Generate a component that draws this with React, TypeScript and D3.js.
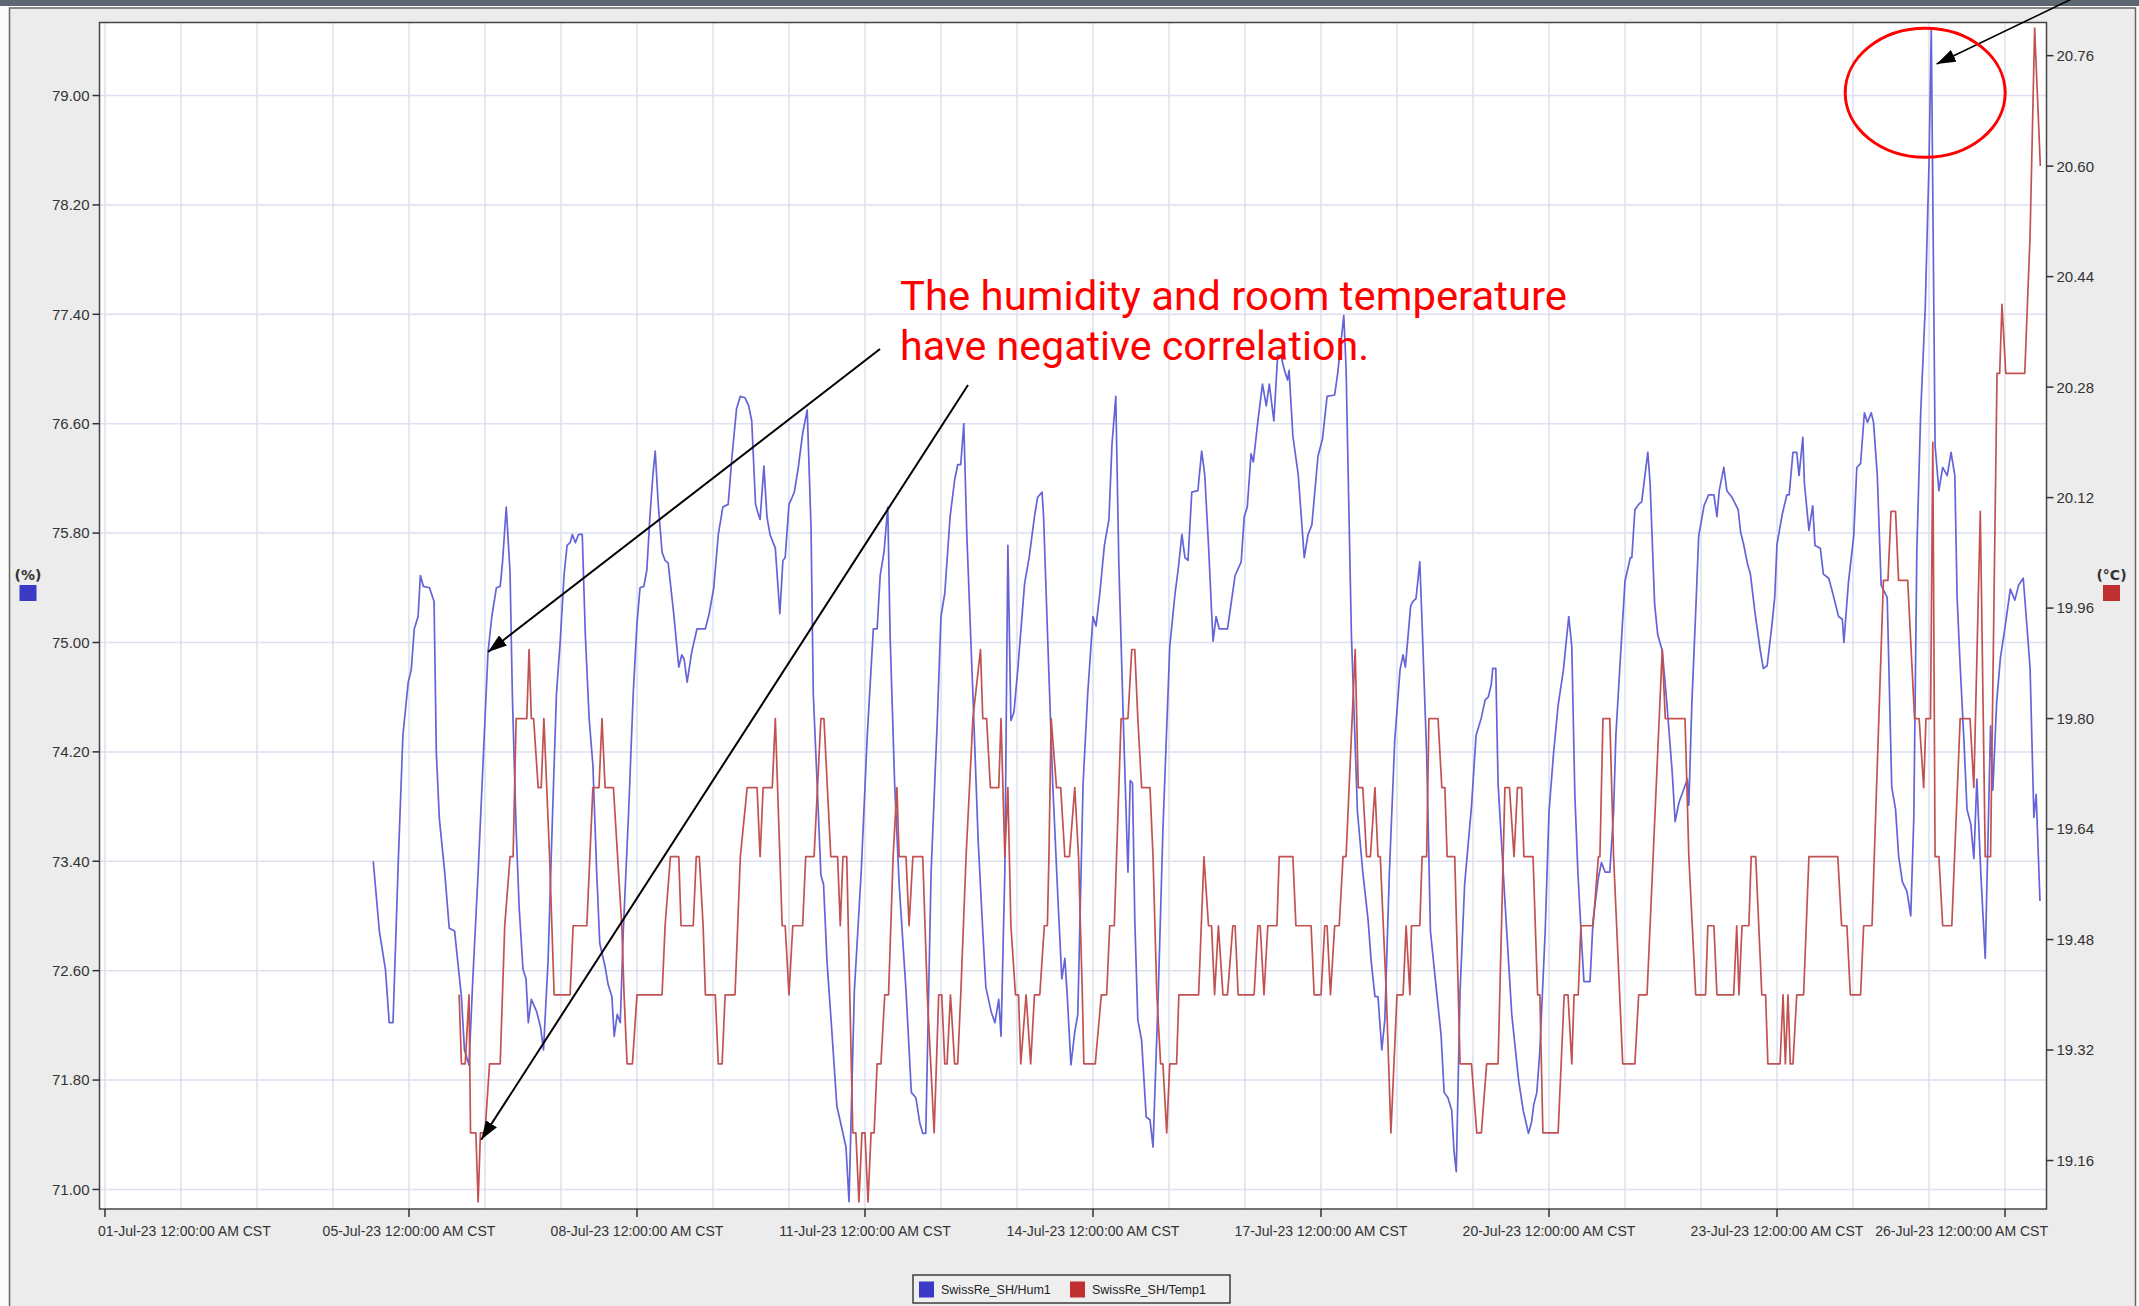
import React, { useRef, useEffect } from 'react';
import * as d3 from 'd3';

// Humidity (%) : [days since 01-Jul-23 00:00 CST, value]
const humidity: [number, number][] = [
  [3.53, 73.4], [3.61, 72.89], [3.69, 72.61], [3.74, 72.22], [3.79, 72.22], [3.86, 73.41], [3.92, 74.32],
  [3.99, 74.71], [4.03, 74.8], [4.07, 75.1], [4.12, 75.19], [4.15, 75.49], [4.19, 75.41], [4.27, 75.4],
  [4.33, 75.3], [4.36, 74.19], [4.4, 73.71], [4.47, 73.32], [4.53, 72.91], [4.6, 72.89], [4.69, 72.41],
  [4.73, 72.02], [4.79, 71.91], [4.84, 72.54], [4.91, 73.32], [4.98, 74.19], [5.04, 74.93], [5.09, 75.19],
  [5.15, 75.4], [5.2, 75.41], [5.23, 75.58], [5.28, 75.99], [5.33, 75.51], [5.36, 74.62], [5.41, 73.63],
  [5.45, 73.06], [5.5, 72.61], [5.54, 72.54], [5.57, 72.22], [5.61, 72.39], [5.68, 72.3], [5.73, 72.19],
  [5.77, 72.02], [5.83, 72.67], [5.89, 73.76], [5.94, 74.62], [5.99, 75.01], [6.04, 75.49], [6.08, 75.71],
  [6.12, 75.73], [6.15, 75.79], [6.19, 75.73], [6.23, 75.79], [6.28, 75.79], [6.32, 75.06], [6.37, 74.45],
  [6.42, 74.1], [6.47, 73.32], [6.51, 72.8], [6.58, 72.63], [6.62, 72.5], [6.67, 72.41], [6.7, 72.12],
  [6.74, 72.28], [6.78, 72.22], [6.82, 72.89], [6.89, 73.76], [6.95, 74.62], [7.0, 75.14], [7.04, 75.4],
  [7.09, 75.41], [7.13, 75.53], [7.17, 75.92], [7.21, 76.23], [7.24, 76.4], [7.28, 76.01], [7.33, 75.66],
  [7.37, 75.6], [7.41, 75.58], [7.48, 75.23], [7.55, 74.82], [7.59, 74.91], [7.62, 74.88], [7.66, 74.71],
  [7.72, 74.93], [7.79, 75.1], [7.9, 75.1], [7.95, 75.21], [8.01, 75.4], [8.07, 75.79], [8.13, 75.99],
  [8.2, 76.01], [8.25, 76.36], [8.31, 76.71], [8.36, 76.8], [8.42, 76.79], [8.47, 76.73], [8.51, 76.62],
  [8.56, 76.01], [8.59, 75.95], [8.62, 75.9], [8.67, 76.29], [8.71, 75.92], [8.75, 75.79], [8.82, 75.69],
  [8.88, 75.21], [8.92, 75.6], [8.95, 75.62], [9.0, 76.01], [9.04, 76.06], [9.07, 76.1], [9.12, 76.27],
  [9.18, 76.53], [9.24, 76.7], [9.29, 75.84], [9.32, 74.62], [9.38, 73.84], [9.42, 73.3], [9.455, 73.23],
  [9.5, 72.67], [9.56, 72.19], [9.63, 71.61], [9.69, 71.46], [9.75, 71.31], [9.79, 70.91], [9.86, 72.45],
  [9.95, 73.32], [10.03, 74.32], [10.11, 75.1], [10.16, 75.1], [10.2, 75.49], [10.25, 75.66], [10.3, 75.99],
  [10.33, 75.06], [10.39, 73.97], [10.45, 73.23], [10.54, 72.45], [10.61, 71.71], [10.67, 71.67], [10.72, 71.49],
  [10.76, 71.41], [10.8, 71.41], [10.87, 73.32], [10.95, 74.41], [11.0, 75.19], [11.05, 75.36], [11.12, 75.92],
  [11.18, 76.19], [11.22, 76.3], [11.26, 76.3], [11.3, 76.6], [11.34, 75.79], [11.42, 74.62], [11.49, 73.54],
  [11.55, 72.89], [11.59, 72.48], [11.66, 72.3], [11.71, 72.22], [11.76, 72.39], [11.79, 72.12], [11.84, 73.32],
  [11.88, 75.71], [11.92, 74.43], [11.96, 74.49], [12.01, 74.8], [12.1, 75.43], [12.16, 75.62], [12.23, 75.92],
  [12.27, 76.06], [12.33, 76.1], [12.35, 75.92], [12.41, 74.93], [12.47, 73.97], [12.54, 73.11], [12.59, 72.54],
  [12.63, 72.69], [12.66, 72.43], [12.71, 71.91], [12.76, 72.15], [12.8, 72.28], [12.87, 73.97], [12.93, 74.62],
  [13.0, 75.19], [13.04, 75.12], [13.09, 75.36], [13.15, 75.71], [13.21, 75.9], [13.25, 76.45], [13.3, 76.8],
  [13.34, 75.58], [13.4, 74.41], [13.46, 73.32], [13.49, 73.99], [13.52, 73.97], [13.55, 72.97], [13.59, 72.24],
  [13.64, 72.09], [13.7, 71.53], [13.75, 71.51], [13.79, 71.31], [13.86, 72.45], [13.92, 73.63], [14.01, 74.97],
  [14.08, 75.36], [14.12, 75.53], [14.17, 75.79], [14.21, 75.62], [14.25, 75.6], [14.3, 76.1], [14.38, 76.11],
  [14.43, 76.4], [14.47, 76.23], [14.52, 75.71], [14.56, 75.23], [14.58, 75.01], [14.62, 75.19], [14.66, 75.1],
  [14.77, 75.1], [14.87, 75.49], [14.95, 75.59], [14.99, 75.92], [15.03, 75.99], [15.08, 76.38], [15.11, 76.32],
  [15.17, 76.62], [15.23, 76.89], [15.28, 76.73], [15.32, 76.89], [15.38, 76.62], [15.43, 77.1], [15.47, 77.1],
  [15.52, 76.99], [15.56, 76.92], [15.58, 76.99], [15.63, 76.51], [15.7, 76.23], [15.78, 75.62], [15.83, 75.79],
  [15.88, 75.86], [15.96, 76.36], [16.02, 76.49], [16.08, 76.8], [16.18, 76.81], [16.22, 76.97], [16.26, 77.18],
  [16.3, 77.39], [16.33, 77.01], [16.4, 75.06], [16.48, 73.76], [16.55, 73.32], [16.62, 72.97], [16.66, 72.67],
  [16.71, 72.41], [16.75, 72.41], [16.8, 72.02], [16.84, 72.24], [16.9, 73.32], [16.97, 74.28], [17.04, 74.8],
  [17.08, 74.91], [17.11, 74.82], [17.14, 75.01], [17.18, 75.27], [17.21, 75.3], [17.25, 75.32], [17.3, 75.59],
  [17.33, 75.14], [17.39, 74.19], [17.44, 72.89], [17.52, 72.45], [17.58, 72.13], [17.62, 71.71], [17.67, 71.67],
  [17.72, 71.58], [17.75, 71.28], [17.78, 71.13], [17.83, 72.45], [17.89, 73.23], [17.98, 73.8], [18.04, 74.32],
  [18.11, 74.45], [18.16, 74.58], [18.2, 74.6], [18.24, 74.69], [18.26, 74.81], [18.3, 74.81], [18.33, 73.97],
  [18.42, 73.11], [18.51, 72.28], [18.6, 71.8], [18.66, 71.58], [18.73, 71.41], [18.77, 71.49], [18.8, 71.62],
  [18.84, 71.71], [18.88, 72.02], [18.95, 72.89], [19.0, 73.76], [19.06, 74.19], [19.12, 74.54], [19.19, 74.8],
  [19.22, 74.97], [19.26, 75.19], [19.3, 74.97], [19.34, 73.89], [19.38, 73.32], [19.43, 72.8], [19.46, 72.52],
  [19.54, 72.52], [19.58, 72.97], [19.65, 73.28], [19.69, 73.39], [19.74, 73.32], [19.8, 73.32], [19.85, 73.76],
  [19.88, 74.32], [19.93, 74.8], [20.0, 75.45], [20.07, 75.62], [20.09, 75.62], [20.13, 75.97], [20.18, 76.01],
  [20.22, 76.03], [20.3, 76.39], [20.33, 76.17], [20.39, 75.28], [20.43, 75.06], [20.49, 74.94], [20.55, 74.56],
  [20.62, 74.06], [20.66, 73.69], [20.71, 73.83], [20.75, 73.89], [20.82, 74.0], [20.84, 73.81], [20.88, 74.56],
  [20.93, 75.22], [20.97, 75.78], [21.04, 76.0], [21.1, 76.08], [21.17, 76.08], [21.21, 75.92], [21.24, 76.11],
  [21.3, 76.28], [21.34, 76.11], [21.41, 76.06], [21.49, 75.97], [21.52, 75.81], [21.56, 75.72], [21.61, 75.58],
  [21.65, 75.5], [21.71, 75.22], [21.78, 74.94], [21.82, 74.81], [21.87, 74.83], [21.93, 75.11], [21.97, 75.33],
  [22.0, 75.72], [22.07, 75.94], [22.13, 76.08], [22.16, 76.08], [22.21, 76.39], [22.26, 76.39], [22.29, 76.22],
  [22.34, 76.5], [22.36, 76.17], [22.42, 75.82], [22.47, 76.0], [22.5, 75.71], [22.57, 75.69], [22.61, 75.5],
  [22.68, 75.47], [22.72, 75.39], [22.77, 75.28], [22.81, 75.19], [22.86, 75.17], [22.88, 75.0], [22.94, 75.44],
  [23.01, 75.78], [23.05, 76.28], [23.1, 76.31], [23.15, 76.68], [23.19, 76.61], [23.24, 76.68], [23.27, 76.61],
  [23.32, 76.22], [23.37, 75.42], [23.45, 75.33], [23.51, 73.94], [23.56, 73.78], [23.6, 73.44], [23.65, 73.25],
  [23.71, 73.18], [23.76, 73.0], [23.8, 73.72], [23.84, 75.67], [23.89, 76.67], [23.95, 77.44], [24.0, 78.5],
  [24.03, 79.49], [24.08, 76.44], [24.13, 76.11], [24.18, 76.28], [24.24, 76.22], [24.29, 76.39], [24.34, 76.22],
  [24.37, 75.33], [24.41, 74.83], [24.46, 74.28], [24.5, 73.78], [24.55, 73.67], [24.59, 73.42], [24.63, 74.0],
  [24.68, 73.33], [24.74, 72.69], [24.81, 74.39], [24.84, 73.92], [24.89, 74.56], [24.94, 74.89], [25.0, 75.11],
  [25.07, 75.39], [25.13, 75.31], [25.18, 75.42], [25.24, 75.47], [25.29, 75.11], [25.33, 74.81], [25.38, 73.72],
  [25.41, 73.89], [25.46, 73.11],
];

// Room temperature (°C) : [days since 01-Jul-23 00:00 CST, value]
const temperature: [number, number][] = [
  [4.66, 19.4], [4.69, 19.3], [4.74, 19.3], [4.79, 19.4], [4.81, 19.2], [4.88, 19.2], [4.91, 19.1], [4.94, 19.2],
  [5.0, 19.2], [5.06, 19.3], [5.2, 19.3], [5.26, 19.5], [5.33, 19.6], [5.37, 19.6], [5.41, 19.8], [5.55, 19.8],
  [5.58, 19.9], [5.61, 19.8], [5.64, 19.8], [5.7, 19.7], [5.74, 19.7], [5.775, 19.8], [5.85, 19.6], [5.91, 19.4],
  [6.12, 19.4], [6.16, 19.5], [6.34, 19.5], [6.42, 19.7], [6.5, 19.7], [6.54, 19.8], [6.58, 19.7], [6.69, 19.7],
  [6.8, 19.5], [6.83, 19.4], [6.87, 19.3], [6.94, 19.3], [7.0, 19.4], [7.33, 19.4], [7.37, 19.5], [7.44, 19.6],
  [7.55, 19.6], [7.58, 19.5], [7.74, 19.5], [7.78, 19.6], [7.82, 19.6], [7.87, 19.5], [7.9, 19.4], [8.03, 19.4],
  [8.07, 19.3], [8.12, 19.3], [8.16, 19.4], [8.29, 19.4], [8.36, 19.6], [8.45, 19.7], [8.58, 19.7], [8.62, 19.6],
  [8.66, 19.7], [8.78, 19.7], [8.82, 19.8], [8.91, 19.5], [8.95, 19.5], [9.0, 19.4], [9.05, 19.5], [9.18, 19.5],
  [9.22, 19.6], [9.33, 19.6], [9.42, 19.8], [9.46, 19.8], [9.55, 19.6], [9.64, 19.6], [9.675, 19.5], [9.71, 19.6],
  [9.76, 19.6], [9.84, 19.2], [9.88, 19.2], [9.92, 19.1], [9.96, 19.2], [10.0, 19.2], [10.04, 19.1], [10.08, 19.2],
  [10.12, 19.2], [10.16, 19.3], [10.21, 19.3], [10.26, 19.4], [10.31, 19.4], [10.37, 19.6], [10.42, 19.7], [10.45, 19.6],
  [10.54, 19.6], [10.58, 19.5], [10.63, 19.6], [10.76, 19.6], [10.82, 19.4], [10.91, 19.2], [10.97, 19.4], [11.01, 19.4],
  [11.05, 19.3], [11.08, 19.3], [11.125, 19.4], [11.18, 19.3], [11.22, 19.3], [11.26, 19.4], [11.33, 19.6], [11.42, 19.8],
  [11.52, 19.9], [11.55, 19.8], [11.6, 19.8], [11.65, 19.7], [11.76, 19.7], [11.79, 19.8], [11.84, 19.6], [11.88, 19.7],
  [11.92, 19.5], [11.98, 19.4], [12.02, 19.4], [12.05, 19.3], [12.12, 19.4], [12.18, 19.3], [12.23, 19.4], [12.3, 19.4],
  [12.36, 19.5], [12.4, 19.5], [12.42, 19.6], [12.45, 19.8], [12.52, 19.7], [12.575, 19.7], [12.63, 19.6], [12.69, 19.6],
  [12.76, 19.7], [12.81, 19.6], [12.86, 19.4], [12.88, 19.3], [13.03, 19.3], [13.11, 19.4], [13.18, 19.4], [13.22, 19.5],
  [13.28, 19.5], [13.31, 19.6], [13.37, 19.8], [13.46, 19.8], [13.51, 19.9], [13.55, 19.9], [13.59, 19.8], [13.64, 19.7],
  [13.75, 19.7], [13.79, 19.6], [13.84, 19.4], [13.89, 19.3], [13.92, 19.3], [13.97, 19.2], [14.01, 19.3], [14.1, 19.3],
  [14.13, 19.4], [14.39, 19.4], [14.46, 19.6], [14.52, 19.5], [14.56, 19.5], [14.6, 19.4], [14.65, 19.5], [14.71, 19.4],
  [14.77, 19.4], [14.84, 19.5], [14.87, 19.5], [14.91, 19.4], [15.12, 19.4], [15.17, 19.5], [15.2, 19.5], [15.25, 19.4],
  [15.3, 19.5], [15.42, 19.5], [15.45, 19.6], [15.63, 19.6], [15.67, 19.5], [15.87, 19.5], [15.91, 19.4], [16.0, 19.4],
  [16.05, 19.5], [16.08, 19.5], [16.125, 19.4], [16.18, 19.5], [16.24, 19.5], [16.29, 19.6], [16.33, 19.6], [16.45, 19.9],
  [16.49, 19.7], [16.55, 19.7], [16.6, 19.6], [16.65, 19.6], [16.71, 19.7], [16.75, 19.6], [16.78, 19.6], [16.86, 19.4],
  [16.92, 19.2], [17.0, 19.4], [17.08, 19.4], [17.12, 19.5], [17.17, 19.4], [17.19, 19.5], [17.3, 19.5], [17.33, 19.6],
  [17.39, 19.6], [17.42, 19.8], [17.54, 19.8], [17.59, 19.7], [17.63, 19.7], [17.66, 19.6], [17.76, 19.6], [17.83, 19.3],
  [17.98, 19.3], [18.05, 19.2], [18.11, 19.2], [18.18, 19.3], [18.33, 19.3], [18.42, 19.7], [18.48, 19.7], [18.54, 19.6],
  [18.585, 19.7], [18.64, 19.7], [18.67, 19.6], [18.79, 19.6], [18.85, 19.4], [18.88, 19.4], [18.92, 19.2], [19.12, 19.2],
  [19.2, 19.4], [19.25, 19.4], [19.3, 19.3], [19.33, 19.4], [19.385, 19.4], [19.42, 19.5], [19.58, 19.5], [19.65, 19.6],
  [19.67, 19.6], [19.71, 19.8], [19.8, 19.8], [19.85, 19.6], [19.93, 19.4], [19.97, 19.3], [20.13, 19.3], [20.18, 19.4],
  [20.29, 19.4], [20.49, 19.9], [20.53, 19.8], [20.79, 19.8], [20.84, 19.6], [20.93, 19.4], [21.06, 19.4], [21.09, 19.5],
  [21.17, 19.5], [21.21, 19.4], [21.43, 19.4], [21.47, 19.5], [21.5, 19.4], [21.54, 19.5], [21.63, 19.5], [21.66, 19.6],
  [21.72, 19.6], [21.8, 19.4], [21.85, 19.4], [21.88, 19.3], [22.04, 19.3], [22.08, 19.4], [22.11, 19.3], [22.145, 19.4],
  [22.175, 19.3], [22.21, 19.3], [22.26, 19.4], [22.35, 19.4], [22.42, 19.6], [22.8, 19.6], [22.85, 19.5], [22.92, 19.5],
  [22.965, 19.4], [23.1, 19.4], [23.14, 19.5], [23.25, 19.5], [23.4, 20.0], [23.46, 20.0], [23.5, 20.1], [23.56, 20.1],
  [23.6, 20.0], [23.72, 20.0], [23.81, 19.8], [23.87, 19.8], [23.93, 19.7], [23.96, 19.8], [24.02, 19.8], [24.05, 20.2],
  [24.08, 19.6], [24.13, 19.6], [24.18, 19.5], [24.3, 19.5], [24.41, 19.8], [24.54, 19.8], [24.59, 19.7], [24.675, 20.1],
  [24.74, 19.6], [24.81, 19.6], [24.895, 20.3], [24.93, 20.3], [24.96, 20.4], [25.01, 20.3], [25.26, 20.3], [25.33, 20.5],
  [25.39, 20.8], [25.465, 20.6],
];

const xTickDates = ['2023-07-01', '2023-07-05', '2023-07-08', '2023-07-11', '2023-07-14',
  '2023-07-17', '2023-07-20', '2023-07-23', '2023-07-26'];
const humTicks = [71.0, 71.8, 72.6, 73.4, 74.2, 75.0, 75.8, 76.6, 77.4, 78.2, 79.0];
const tempTicks = [19.16, 19.32, 19.48, 19.64, 19.8, 19.96, 20.12, 20.28, 20.44, 20.6, 20.76];
const seriesNames = ['SwissRe_SH/Hum1', 'SwissRe_SH/Temp1'];
const seriesUnits = ['(%)', '(°C)'];
const noteLines = ['The humidity and room temperature', 'have negative correlation.'];

const W = 2139;
const H = 1306;
const BASE = Date.UTC(2023, 6, 1);
const DAY = 864e5;
const toDate = (d: number) => new Date(BASE + d * DAY);

const BLUE = '#6464d8';
const RED = '#c25252';
const BLUE_KEY = '#3a3ac6';
const RED_KEY = '#c03030';
const GRID = '#dedff0';
const AXIS_FONT = '"Liberation Sans", Arial, sans-serif';

const SensorChart = () => {
  const svgRef = useRef<SVGSVGElement>(null);

  useEffect(() => {
    const root = d3.select(svgRef.current);
    root.selectAll('*').remove();

    // plot box
    const left = 99.5, right = 2046.5, top = 22.5, bottom = 1209;

    const x = d3.scaleUtc()
      .domain([toDate(-0.072), toDate(25.546)])
      .range([left, right]);
    const yHum = d3.scaleLinear().domain([70.857, 79.534]).range([bottom, top]);
    const yTemp = d3.scaleLinear().domain([19.0898, 20.808]).range([bottom, top]);

    // window chrome
    root.append('rect').attr('width', W).attr('height', H).attr('fill', '#fbfbfb');
    root.append('rect').attr('x', 9.5).attr('y', 8).attr('width', 2126).attr('height', H)
      .attr('fill', '#ececec').attr('stroke', '#666').attr('stroke-width', 1.5);
    root.append('rect').attr('width', W).attr('height', 6).attr('fill', '#5e6872');

    const defs = root.append('defs');
    defs.append('clipPath').attr('id', 'plot-clip')
      .append('rect').attr('x', left).attr('y', top)
      .attr('width', right - left).attr('height', bottom - top);
    defs.append('marker')
      .attr('id', 'arrow-head')
      .attr('viewBox', '0 0 10 10')
      .attr('refX', 10).attr('refY', 5)
      .attr('markerWidth', 19).attr('markerHeight', 13)
      .attr('markerUnits', 'userSpaceOnUse')
      .attr('preserveAspectRatio', 'none')
      .attr('orient', 'auto')
      .append('path').attr('d', 'M0,0L10,5L0,10Z').attr('fill', '#000');

    root.append('rect').attr('x', left).attr('y', top)
      .attr('width', right - left).attr('height', bottom - top).attr('fill', '#fff');

    // grid lines: every day vertically, every left tick horizontally
    const grid = root.append('g').attr('stroke', GRID).attr('stroke-width', 1.5);
    grid.selectAll('line.v')
      .data(d3.utcDay.range(toDate(0), toDate(25.546)))
      .enter().append('line')
      .attr('x1', d => x(d)).attr('x2', d => x(d))
      .attr('y1', top).attr('y2', bottom);
    grid.selectAll('line.h')
      .data(humTicks)
      .enter().append('line')
      .attr('x1', left).attr('x2', right)
      .attr('y1', d => yHum(d)).attr('y2', d => yHum(d));

    // series
    const plot = root.append('g').attr('clip-path', 'url(#plot-clip)');
    const humLine = d3.line<[number, number]>()
      .x(d => x(toDate(d[0])))
      .y(d => yHum(d[1]));
    const tempLine = d3.line<[number, number]>()
      .x(d => x(toDate(d[0])))
      .y(d => yTemp(d[1]));
    plot.append('path').datum(humidity)
      .attr('fill', 'none').attr('stroke', BLUE).attr('stroke-width', 1.7)
      .attr('stroke-linejoin', 'round').attr('d', humLine);
    plot.append('path').datum(temperature)
      .attr('fill', 'none').attr('stroke', RED).attr('stroke-width', 1.7)
      .attr('stroke-linejoin', 'round').attr('d', tempLine);

    // plot border
    root.append('rect').attr('x', left).attr('y', top)
      .attr('width', right - left).attr('height', bottom - top)
      .attr('fill', 'none').attr('stroke', '#444').attr('stroke-width', 1.5);

    // x axis
    const fmt = d3.utcFormat('%d-%b-%y %I:%M:%S %p');
    const xTicks = xTickDates.map(s => d3.utcParse('%Y-%m-%d')(s) as Date);
    const xAxis = root.append('g');
    xAxis.selectAll('line')
      .data(xTicks)
      .enter().append('line')
      .attr('x1', d => x(d)).attr('x2', d => x(d))
      .attr('y1', bottom).attr('y2', bottom + 8)
      .attr('stroke', '#333').attr('stroke-width', 1.5);
    xAxis.selectAll('text')
      .data(xTicks)
      .enter().append('text')
      .attr('y', bottom + 27)
      .attr('font-family', AXIS_FONT).attr('font-size', 14).attr('fill', '#333')
      .attr('text-anchor', 'middle')
      .text(d => `${fmt(d)} CST`)
      .each(function (d) {
        // keep edge labels inside the plot width, like the original renderer does
        const w = (this as SVGTextElement).getComputedTextLength();
        let cx = x(d);
        cx = Math.max(cx, left - 1.5 + w / 2);
        cx = Math.min(cx, right + 1.5 - w / 2);
        d3.select(this).attr('x', cx);
      });

    // left axis (humidity)
    const yl = root.append('g');
    yl.selectAll('line')
      .data(humTicks)
      .enter().append('line')
      .attr('x1', left - 7).attr('x2', left)
      .attr('y1', d => yHum(d)).attr('y2', d => yHum(d))
      .attr('stroke', '#333').attr('stroke-width', 1.5);
    yl.selectAll('text')
      .data(humTicks)
      .enter().append('text')
      .attr('x', left - 10).attr('y', d => yHum(d)).attr('dy', '0.36em')
      .attr('text-anchor', 'end')
      .attr('font-family', AXIS_FONT).attr('font-size', 15).attr('fill', '#333')
      .text(d => d.toFixed(2));

    // right axis (temperature)
    const yr = root.append('g');
    yr.selectAll('line')
      .data(tempTicks)
      .enter().append('line')
      .attr('x1', right).attr('x2', right + 7)
      .attr('y1', d => yTemp(d)).attr('y2', d => yTemp(d))
      .attr('stroke', '#333').attr('stroke-width', 1.5);
    yr.selectAll('text')
      .data(tempTicks)
      .enter().append('text')
      .attr('x', right + 10).attr('y', d => yTemp(d)).attr('dy', '0.36em')
      .attr('font-family', AXIS_FONT).attr('font-size', 15).attr('fill', '#333')
      .text(d => d.toFixed(2));

    // axis unit labels with colour keys
    const unitKeys = [
      { cx: 28, color: BLUE_KEY },
      { cx: 2111.5, color: RED_KEY },
    ];
    unitKeys.forEach((k, i) => {
      root.append('text')
        .attr('x', k.cx).attr('y', 580)
        .attr('text-anchor', 'middle')
        .attr('font-family', '"DejaVu Sans", sans-serif').attr('font-weight', 'bold')
        .attr('font-size', 14).attr('fill', '#333')
        .text(seriesUnits[i]);
      root.append('rect')
        .attr('x', k.cx - 8.5).attr('y', 585)
        .attr('width', 17).attr('height', 16)
        .attr('fill', k.color);
    });

    // legend
    const legend = root.append('g').attr('transform', 'translate(913,1275)');
    legend.append('rect').attr('width', 317).attr('height', 28)
      .attr('fill', '#efefef').attr('stroke', '#222').attr('stroke-width', 1.3);
    const legendItems = [
      { name: seriesNames[0], color: BLUE_KEY, x: 6 },
      { name: seriesNames[1], color: RED_KEY, x: 157 },
    ];
    legendItems.forEach(it => {
      legend.append('rect').attr('x', it.x).attr('y', 6.5)
        .attr('width', 15).attr('height', 16).attr('fill', it.color);
      legend.append('text').attr('x', it.x + 22).attr('y', 19)
        .attr('font-family', AXIS_FONT).attr('font-size', 12.5).attr('fill', '#222')
        .text(it.name);
    });

    // annotation: note text, arrows and highlight ring
    const note = root.append('g')
      .attr('font-family', 'Roboto, "Noto Sans", sans-serif')
      .attr('font-size', 41).attr('fill', '#ff0000');
    note.append('text').attr('x', 900).attr('y', 310)
      .attr('textLength', 667).attr('lengthAdjust', 'spacingAndGlyphs').text(noteLines[0]);
    note.append('text').attr('x', 900).attr('y', 360)
      .attr('textLength', 469).attr('lengthAdjust', 'spacingAndGlyphs').text(noteLines[1]);

    const arrows = [
      { from: [880, 349], to: [x(toDate(5.04)), yHum(74.93)], w: 2 },
      { from: [968, 385], to: [x(toDate(4.95)), yTemp(19.19)], w: 2 },
      { from: [2082, -6], to: [x(toDate(24.1)), yHum(79.23)], w: 1.6 },
    ];
    arrows.forEach(a => {
      root.append('line')
        .attr('x1', a.from[0]).attr('y1', a.from[1])
        .attr('x2', a.to[0]).attr('y2', a.to[1])
        .attr('stroke', '#000').attr('stroke-width', a.w)
        .attr('marker-end', 'url(#arrow-head)');
    });

    root.append('ellipse')
      .attr('cx', x(toDate(23.95))).attr('cy', yHum(79.02))
      .attr('rx', 80).attr('ry', 64.5)
      .attr('fill', 'none').attr('stroke', '#ff0000').attr('stroke-width', 3);
  }, []);

  return (
    <svg
      ref={svgRef}
      width={W}
      height={H}
      style={{ position: 'absolute', left: 0, top: 0, display: 'block' }}
    />
  );
};

export default function App() {
  return <SensorChart />;
}
